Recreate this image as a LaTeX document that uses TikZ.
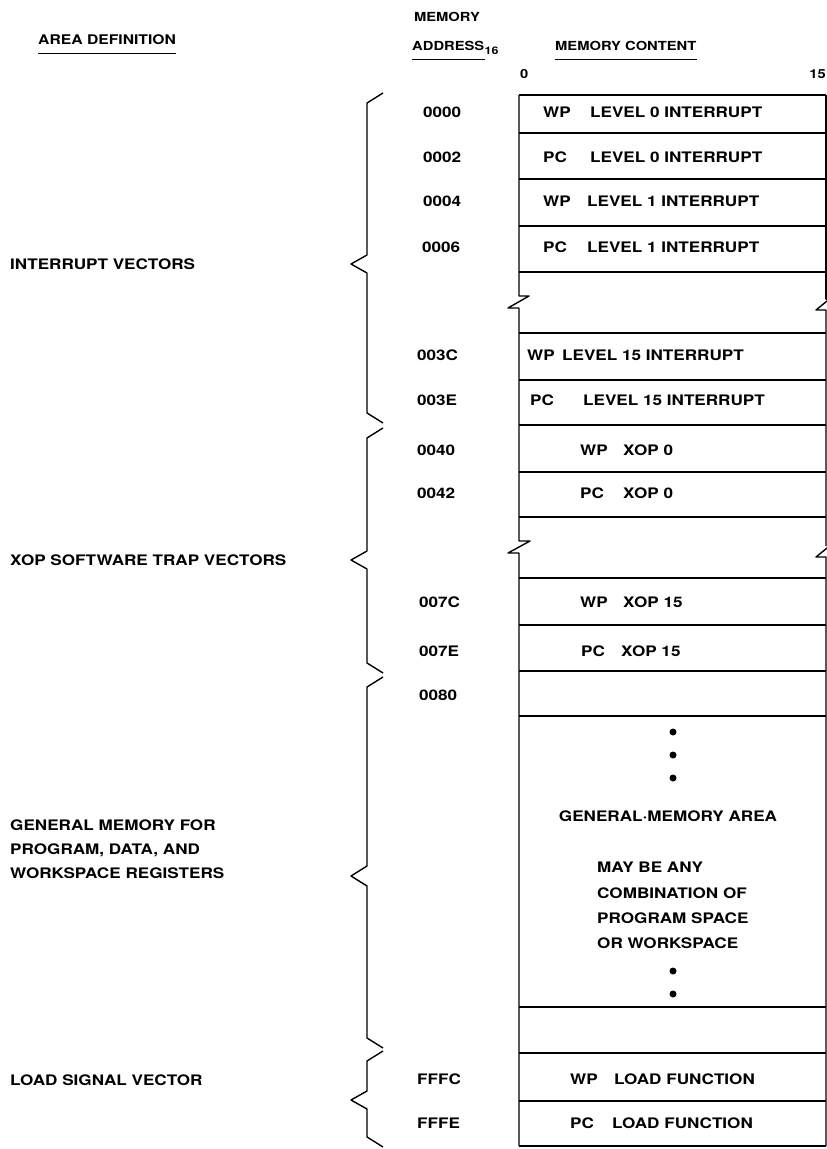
\documentclass[tikz,border=0pt]{standalone}
\usepackage{fontspec}
\setmainfont{TeX Gyre Heros}[FakeStretch=1.18]
\begin{document}
\begin{tikzpicture}[x=1pt,y=-1pt,
  lbl/.style={anchor=west, inner sep=0pt, text height=10.4pt, text depth=0pt, font=\bfseries\fontsize{14.5}{16}\selectfont},
  hdr/.style={inner sep=0pt, text height=9pt, text depth=0pt, font=\bfseries\fontsize{12.5}{14}\selectfont},
  ln/.style={line width=1.4pt, line join=round},
  uline/.style={line width=1.3pt},
  dotmark/.style={circle, fill=black, inner sep=0pt, minimum size=7pt}]
\useasboundingbox (0,0) rectangle (827,1149);

% ---------- headers ----------
\node[hdr, anchor=west, font=\bfseries\fontsize{13.3}{15}\selectfont] (hArea) at (38,40) {AREA DEFINITION};
\node[hdr] (hMem) at (447,17) {MEMORY};
\node[hdr, anchor=west] (hAddr) at (412,46) {ADDRESS};
\node[hdr, anchor=north west, font=\bfseries\fontsize{10.5}{12}\selectfont, text height=7.5pt] (hSub) at ([yshift=-1pt]hAddr.east) {16};
\node[hdr, anchor=west] (hCont) at (555,46) {MEMORY CONTENT};
\node[hdr, anchor=west] (bit0) at (520,74) {0};
\node[hdr, anchor=east] (bit15) at (826,74) {15};
\draw[uline] ([yshift=-9pt]hArea.south west) -- ([yshift=-9pt]hArea.south east);
\draw[uline] ([yshift=-9pt]hAddr.south west) -- ([yshift=-9pt]hAddr.south east);
\draw[uline] ([yshift=-9pt]hCont.south west) -- ([yshift=-9pt]hCont.south east);

% ---------- memory box ----------
\foreach \yy in {95,133,179,226,272,333,380,425,472,517,578,625,671,716,1007,1053,1101,1146}
  \draw[ln] (519,\yy) -- (826,\yy);
% left side with breaks
\draw[ln] (519,95) -- (519,296) -- (529,296) -- (508,308) -- (519,308) -- (519,541)
          -- (530,541) -- (508,553) -- (519,553) -- (519,1146);
% right side with breaks
\draw[ln] (826,95) -- (826,299) -- (832,299);
\draw[ln] (826,546) -- (826,310) -- (816,310) -- (832,297);
\draw[ln] (826,1146) -- (826,557) -- (816,557) -- (832,544);

% ---------- addresses ----------
\node[lbl] (a0000) at (423,112) {0000};
\node[lbl] (a0002) at (423,157) {0002};
\node[lbl] (a0004) at (423,201) {0004};
\node[lbl] (a0006) at (422,247) {0006};
\node[lbl] (a003C) at (417,355) {003C};
\node[lbl] (a003E) at (417,400) {003E};
\node[lbl] (a0040) at (417,450) {0040};
\node[lbl] (a0042) at (417,493) {0042};
\node[lbl] (a007C) at (419,602) {007C};
\node[lbl] (a007E) at (419,651) {007E};
\node[lbl] (a0080) at (419,695) {0080};
\node[lbl] (aFFFC) at (417,1079) {FFFC};
\node[lbl] (aFFFE) at (417,1123) {FFFE};

% ---------- contents ----------
\node[lbl] (p1) at (543,112) {WP};  \node[lbl] (t1) at (590,112) {LEVEL 0 INTERRUPT};
\node[lbl] (p2) at (543,157) {PC};  \node[lbl] (t2) at (590,157) {LEVEL 0 INTERRUPT};
\node[lbl] (p3) at (543,201) {WP};  \node[lbl] (t3) at (587,201) {LEVEL 1 INTERRUPT};
\node[lbl] (p4) at (543,247) {PC};  \node[lbl] (t4) at (587,247) {LEVEL 1 INTERRUPT};
\node[lbl] (p5) at (527,355) {WP};  \node[lbl] (t5) at (562,355) {LEVEL 15 INTERRUPT};
\node[lbl] (p6) at (530,400) {PC};  \node[lbl] (t6) at (583,400) {LEVEL 15 INTERRUPT};
\node[lbl] (p7) at (580,450) {WP};  \node[lbl] (t7) at (623,450) {XOP 0};
\node[lbl] (p8) at (580,493) {PC};  \node[lbl] (t8) at (623,493) {XOP 0};
\node[lbl] (p9) at (580,602) {WP};  \node[lbl] (t9) at (623,602) {XOP 15};
\node[lbl] (p10) at (581,651) {PC}; \node[lbl] (t10) at (621,651) {XOP 15};
\node[lbl] (p11) at (570,1079) {WP}; \node[lbl] (t11) at (614,1079) {LOAD FUNCTION};
\node[lbl] (p12) at (570,1123) {PC}; \node[lbl] (t12) at (612,1123) {LOAD FUNCTION};

% general memory area
\node[dotmark] (d1) at (673,732) {};
\node[dotmark] (d2) at (673,755) {};
\node[dotmark] (d3) at (673,778) {};
\node[lbl, anchor=center] (gma) at (668,816) {GENERAL·MEMORY AREA};
\node[lbl] (g1) at (597,867) {MAY BE ANY};
\node[lbl] (g2) at (597,893) {COMBINATION OF};
\node[lbl] (g3) at (597,918) {PROGRAM SPACE};
\node[lbl] (g4) at (597,943) {OR WORKSPACE};
\node[dotmark] (d4) at (673,971) {};
\node[dotmark] (d5) at (673,994) {};

% ---------- area definitions ----------
\node[lbl] (l1) at (10,264) {INTERRUPT VECTORS};
\node[lbl] (l2) at (10,560) {XOP SOFTWARE TRAP VECTORS};
\node[lbl] (l3a) at (10,825) {GENERAL MEMORY FOR};
\node[lbl] (l3b) at (10,849) {PROGRAM, DATA, AND};
\node[lbl] (l3c) at (10,873) {WORKSPACE REGISTERS};
\node[lbl] (l4) at (10,1080) {LOAD SIGNAL VECTOR};

% ---------- braces ----------
\draw[ln] (383,93) -- (367,103) -- (367,255) -- (351,264) -- (367,273) -- (367,413) -- (383,423);
\draw[ln] (383,428) -- (367,438) -- (367,551) -- (351,560) -- (367,569) -- (367,663) -- (383,673);
\draw[ln] (383,677) -- (367,687) -- (367,866) -- (351,876) -- (367,886) -- (367,1038) -- (383,1048);
\draw[ln] (383,1051) -- (367,1061) -- (367,1091) -- (351,1100) -- (367,1109) -- (367,1137) -- (383,1147);
\end{tikzpicture}
\end{document}
